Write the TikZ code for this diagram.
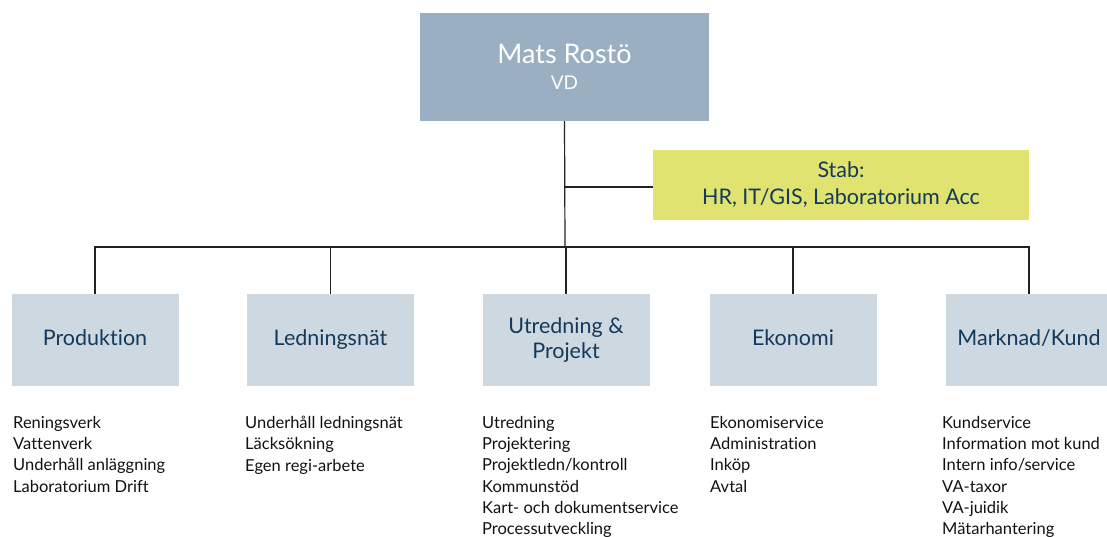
\documentclass[tikz,border=0pt]{standalone}
\usepackage{fontspec}
\setmainfont{Lato}[Ligatures={NoCommon}]
\definecolor{topfill}{HTML}{9AAFC1}
\definecolor{unitfill}{HTML}{CDD8E1}
\definecolor{stabfill}{HTML}{E0E36F}
\definecolor{navy}{HTML}{13395B}
\definecolor{listtext}{HTML}{111111}
\definecolor{linecol}{HTML}{222222}
\tikzset{
  topbox/.style={rectangle, fill=topfill, minimum width=289pt, minimum height=108pt, align=center, text=white, inner sep=0pt, font=\fontsize{27}{26}\selectfont},
  stabbox/.style={rectangle, fill=stabfill, minimum width=376pt, minimum height=70pt, align=center, text=navy, inner sep=0pt, font=\fontsize{21.5}{27}\selectfont},
  unitbox/.style={rectangle, fill=unitfill, minimum width=167pt, minimum height=92pt, align=center, text=navy, inner sep=0pt, font=\fontsize{21.5}{25}\selectfont},
  oneline/.style={text height=15.5pt, text depth=4.5pt},
  listnode/.style={anchor=north west, align=left, inner sep=0pt, text=listtext, font=\fontsize{16.5}{21.3}\selectfont},
  conn/.style={draw=linecol, line width=1.2pt}
}
\begin{document}
\begin{tikzpicture}[x=1pt,y=-1pt]
\useasboundingbox (0,0) rectangle (1107,537);
\clip (0,0) rectangle (1107,537);
\node[topbox] (top) at (564.5,67) {Mats Rostö\\{\fontsize{19}{22}\selectfont VD}};
\node[stabbox] (stab) at (841,185) {Stab:\\HR, IT/GIS, Laboratorium Acc};
\node[unitbox, oneline] (b1) at (95,340) {Produktion};
\node[unitbox, oneline] (b2) at (330.5,340) {Ledningsnät};
\node[unitbox] (b3) at (566,340) {Utredning \&\\Projekt};
\node[unitbox, oneline] (b4) at (793,340) {Ekonomi};
\node[unitbox, oneline] (b5) at (1029,340) {Marknad/Kund};
\coordinate (j) at (565,247);
\coordinate (s) at (565,187);
\draw[conn] (top.south) -- (j);
\draw[conn] (s) -- (stab.west |- s);
\draw[conn] (b1.north) |- (j) -| (b5.north);
\draw[conn] (b2.north) -- (b2.north |- j);
\draw[conn] (b3.north) -- (b3.north |- j);
\draw[conn] (b4.north) -- (b4.north |- j);
\node[listnode] (l1) at (13,416) {Reningsverk\\Vattenverk\\Underhåll anläggning\\Laboratorium Drift};
\node[listnode] (l2) at (245,416) {Underhåll ledningsnät\\Läcksökning\\Egen regi-arbete};
\node[listnode] (l3) at (482,416) {Utredning\\Projektering\\Projektledn/kontroll\\Kommunstöd\\Kart- och dokumentservice\\Processutveckling};
\node[listnode] (l4) at (710,416) {Ekonomiservice\\Administration\\Inköp\\Avtal};
\node[listnode] (l5) at (942,416) {Kundservice\\Information mot kund\\Intern info/service\\VA-taxor\\VA-juidik\\Mätarhantering};
\end{tikzpicture}
\end{document}
